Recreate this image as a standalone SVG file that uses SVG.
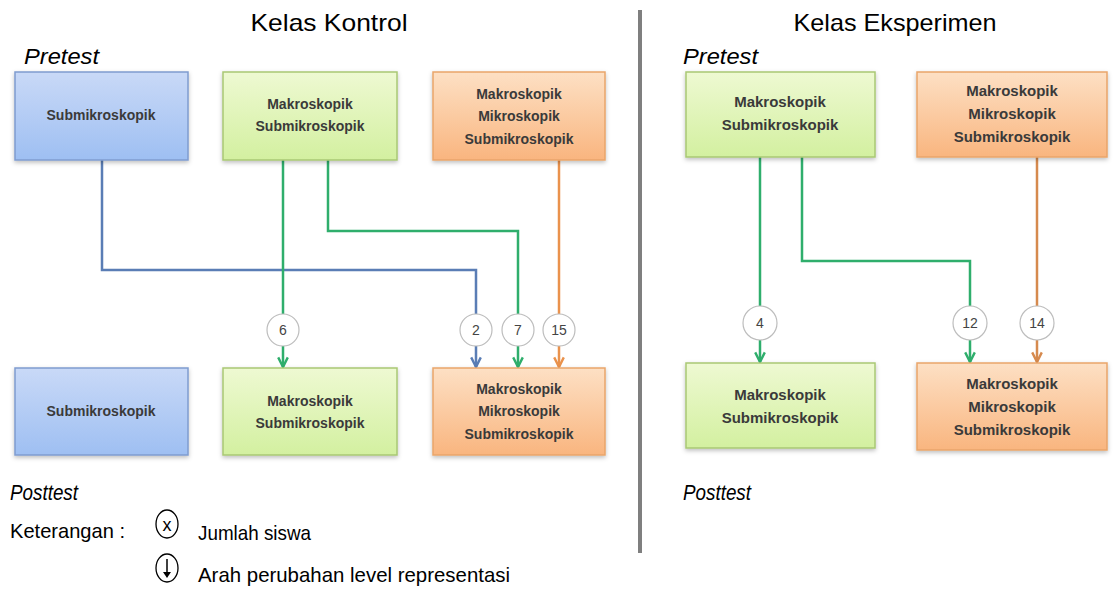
<svg xmlns="http://www.w3.org/2000/svg" width="1113" height="597" viewBox="0 0 1113 597">
<defs>
<linearGradient id="gBlue" x1="0" y1="0" x2="0" y2="1"><stop offset="0" stop-color="#c9d9f7"/><stop offset="1" stop-color="#9ebff2"/></linearGradient>
<linearGradient id="gGreen" x1="0" y1="0" x2="0" y2="1"><stop offset="0" stop-color="#eef9d2"/><stop offset="1" stop-color="#d3f0a0"/></linearGradient>
<linearGradient id="gOrange" x1="0" y1="0" x2="0" y2="1"><stop offset="0" stop-color="#fde0c4"/><stop offset="1" stop-color="#f9b57f"/></linearGradient>
<filter id="sh" x="-10%" y="-10%" width="120%" height="130%"><feDropShadow dx="0" dy="2" stdDeviation="2" flood-color="#000" flood-opacity="0.25"/></filter>
<marker id="aBlue" viewBox="0 0 10 10" refX="9" refY="5" markerWidth="12" markerHeight="12" markerUnits="userSpaceOnUse" orient="auto"><path d="M1,1 L9,5 L1,9" fill="none" stroke="#5a7db5" stroke-width="2"/></marker>
<marker id="aGreen" viewBox="0 0 10 10" refX="9" refY="5" markerWidth="12" markerHeight="12" markerUnits="userSpaceOnUse" orient="auto"><path d="M1,1 L9,5 L1,9" fill="none" stroke="#2fae6c" stroke-width="2"/></marker>
<marker id="aOrange" viewBox="0 0 10 10" refX="9" refY="5" markerWidth="12" markerHeight="12" markerUnits="userSpaceOnUse" orient="auto"><path d="M1,1 L9,5 L1,9" fill="none" stroke="#ea924c" stroke-width="2"/></marker>
<marker id="aBrown" viewBox="0 0 10 10" refX="9" refY="5" markerWidth="12" markerHeight="12" markerUnits="userSpaceOnUse" orient="auto"><path d="M1,1 L9,5 L1,9" fill="none" stroke="#d68a4e" stroke-width="2"/></marker>
</defs>
<style>
text{font-family:"Liberation Sans",Arial,sans-serif;fill:#000}
.title{font-size:24px}
.label{font-size:21px}
.ital{font-style:italic;font-size:22px}
.bt{font-size:14px;font-weight:bold;fill:#3a3a3a;text-anchor:middle}
.bt2{font-size:15px;font-weight:bold;fill:#3a3a3a;text-anchor:middle}
.blue{fill:url(#gBlue);stroke:#7f9ccf;stroke-width:1.5;filter:url(#sh)}
.green{fill:url(#gGreen);stroke:#a9c874;stroke-width:1.5;filter:url(#sh)}
.orange{fill:url(#gOrange);stroke:#e9a56a;stroke-width:1.5;filter:url(#sh)}
.cb{fill:none;stroke:#5a7db5;stroke-width:2.5}
.cg{fill:none;stroke:#2fae6c;stroke-width:2.5}
.co{fill:none;stroke:#ea924c;stroke-width:2.5}
.cbr{fill:none;stroke:#d68a4e;stroke-width:2.5}
.num{fill:#fff;stroke:#bdbdbd;stroke-width:1.2}
.nt{font-size:14px;fill:#444;text-anchor:middle}
</style>

<text class="title" x="329" y="31" text-anchor="middle" textLength="157" lengthAdjust="spacingAndGlyphs">Kelas Kontrol</text>
<text class="title" x="895" y="31" text-anchor="middle" textLength="203" lengthAdjust="spacingAndGlyphs">Kelas Eksperimen</text>
<text class="ital" x="24" y="64" textLength="75" lengthAdjust="spacingAndGlyphs">Pretest</text>
<text class="ital" x="683" y="64" textLength="75" lengthAdjust="spacingAndGlyphs">Pretest</text>
<line x1="640" y1="10" x2="640" y2="553" stroke="#7f7f7f" stroke-width="4"/>

<g id="connectors">
<path class="cb" d="M102,160 V270 H476 V367" marker-end="url(#aBlue)"/>
<path class="cg" d="M283,160 V367" marker-end="url(#aGreen)"/>
<path class="cg" d="M328,160 V231 H518 V367" marker-end="url(#aGreen)"/>
<path class="co" d="M559,160 V367" marker-end="url(#aOrange)"/>
<path class="cg" d="M760,157 V362" marker-end="url(#aGreen)"/>
<path class="cg" d="M802,157 V261 H970 V362" marker-end="url(#aGreen)"/>
<path class="cbr" d="M1037,157 V362" marker-end="url(#aBrown)"/>
<circle class="num" cx="283" cy="330" r="16"/><text class="nt" x="283" y="335">6</text>
<circle class="num" cx="476" cy="330" r="16"/><text class="nt" x="476" y="335">2</text>
<circle class="num" cx="518" cy="330" r="16"/><text class="nt" x="518" y="335">7</text>
<circle class="num" cx="559" cy="330" r="16"/><text class="nt" x="559" y="335">15</text>
<circle class="num" cx="760" cy="323" r="17"/><text class="nt" x="760" y="328">4</text>
<circle class="num" cx="970" cy="323" r="17"/><text class="nt" x="970" y="328">12</text>
<circle class="num" cx="1037" cy="323" r="17"/><text class="nt" x="1037" y="328">14</text>
</g>

<g id="k-pre-sub"><rect class="blue" x="15" y="72" width="173" height="88"/><text class="bt" x="101" y="120">Submikroskopik</text></g>
<g id="k-pre-makrosub"><rect class="green" x="223" y="72" width="174" height="88"/><text class="bt" x="310" y="109">Makroskopik</text><text class="bt" x="310" y="131">Submikroskopik</text></g>
<g id="k-pre-all"><rect class="orange" x="433" y="72" width="172" height="88"/><text class="bt" x="519" y="99">Makroskopik</text><text class="bt" x="519" y="121">Mikroskopik</text><text class="bt" x="519" y="144">Submikroskopik</text></g>

<g id="k-post-sub"><rect class="blue" x="15" y="368" width="173" height="87"/><text class="bt" x="101" y="416">Submikroskopik</text></g>
<g id="k-post-makrosub"><rect class="green" x="223" y="368" width="174" height="87"/><text class="bt" x="310" y="406">Makroskopik</text><text class="bt" x="310" y="428">Submikroskopik</text></g>
<g id="k-post-all"><rect class="orange" x="433" y="368" width="172" height="87"/><text class="bt" x="519" y="394">Makroskopik</text><text class="bt" x="519" y="416">Mikroskopik</text><text class="bt" x="519" y="439">Submikroskopik</text></g>

<g id="e-pre-makrosub"><rect class="green" x="686" y="72" width="189" height="85"/><text class="bt2" x="780" y="107">Makroskopik</text><text class="bt2" x="780" y="130">Submikroskopik</text></g>
<g id="e-pre-all"><rect class="orange" x="917" y="72" width="190" height="85"/><text class="bt2" x="1012" y="96">Makroskopik</text><text class="bt2" x="1012" y="119">Mikroskopik</text><text class="bt2" x="1012" y="142">Submikroskopik</text></g>
<g id="e-post-makrosub"><rect class="green" x="686" y="363" width="189" height="85"/><text class="bt2" x="780" y="400">Makroskopik</text><text class="bt2" x="780" y="423">Submikroskopik</text></g>
<g id="e-post-all"><rect class="orange" x="917" y="363" width="190" height="87"/><text class="bt2" x="1012" y="389">Makroskopik</text><text class="bt2" x="1012" y="412">Mikroskopik</text><text class="bt2" x="1012" y="435">Submikroskopik</text></g>

<text class="ital" x="10" y="500" textLength="68" lengthAdjust="spacingAndGlyphs">Posttest</text>
<text class="ital" x="683" y="500" textLength="68" lengthAdjust="spacingAndGlyphs">Posttest</text>

<g id="legend">
<text class="label" x="10" y="538" textLength="115" lengthAdjust="spacingAndGlyphs">Keterangan :</text>
<ellipse cx="167" cy="524" rx="11" ry="14" fill="none" stroke="#000" stroke-width="1.3"/>
<text x="167" y="531" font-size="18" text-anchor="middle">x</text>
<text class="label" x="198" y="540" textLength="113" lengthAdjust="spacingAndGlyphs">Jumlah siswa</text>
<ellipse cx="167" cy="568" rx="11" ry="14" fill="none" stroke="#000" stroke-width="1.3"/>
<line x1="167" y1="559" x2="167" y2="576" stroke="#000" stroke-width="1.5"/>
<path d="M163,572 L167,578 L171,572 Z" fill="#000"/>
<text class="label" x="198" y="582" textLength="312" lengthAdjust="spacingAndGlyphs">Arah perubahan level representasi</text>
</g>
</svg>
